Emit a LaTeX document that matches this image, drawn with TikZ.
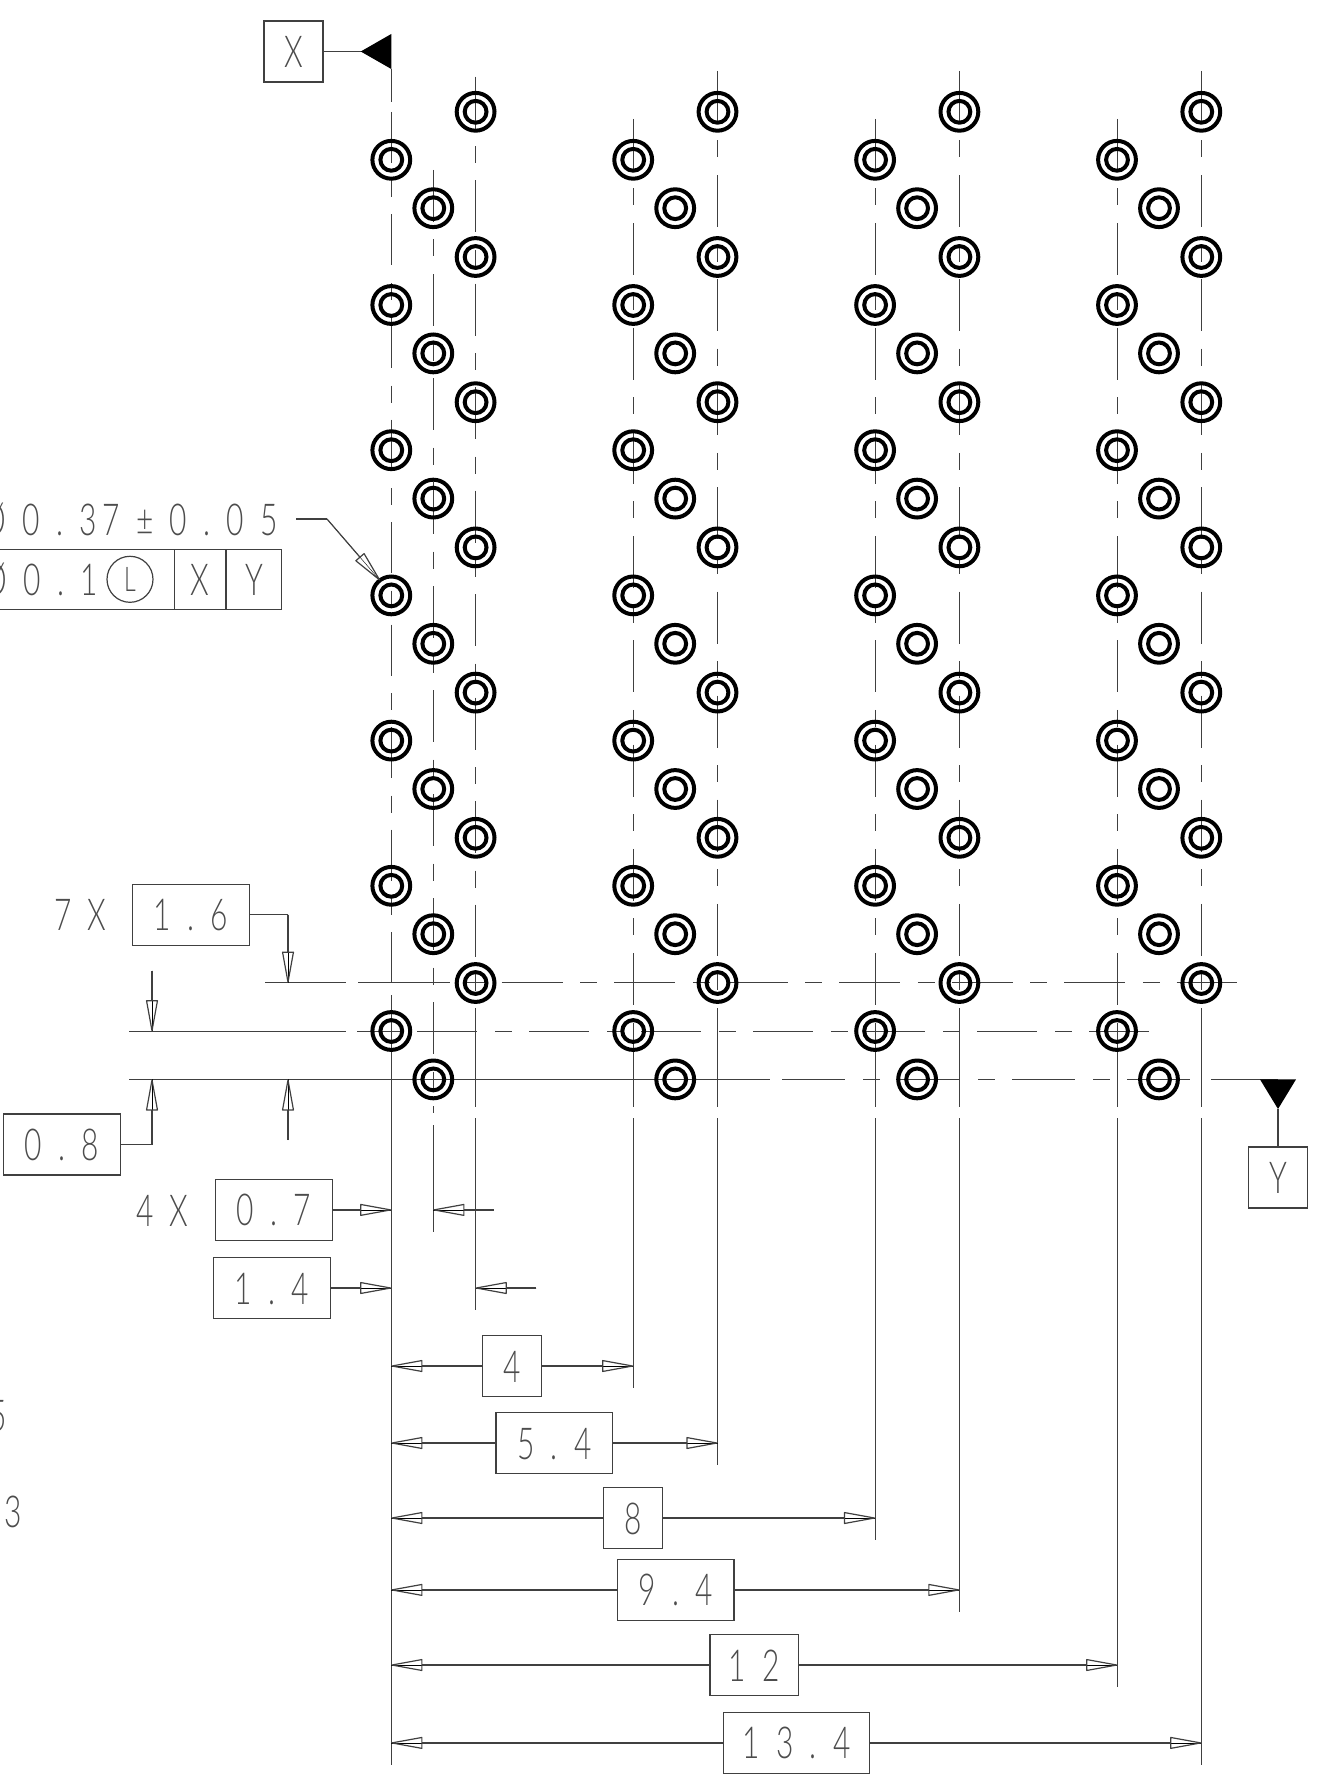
\documentclass[tikz,border=0pt]{standalone}
\usepackage{fontspec}
\setmainfont{Lato}[UprightFont=* Light,FakeStretch=0.68,LetterSpace=37]
\usetikzlibrary{arrows.meta}
\newcommand{\dimfont}{\fontsize{44}{44}\selectfont}
\tikzstyle{line}   = [draw=black!75, line width=1.2pt]
\tikzstyle{cen}    = [line, dash pattern=on 52pt off 17.5pt on 17pt off 17pt]
\tikzstyle{dim}    = [line, -{Triangle[open,round,length=34pt,width=12pt]}, preaction={draw,-}]
\tikzstyle{txt}    = [font=\dimfont, text=black!70, inner sep=0pt, text height=32pt, text depth=0pt]
\tikzstyle{dimbox} = [txt, line, rectangle, minimum height=61pt, outer sep=0pt]
\tikzstyle{hole}   = [draw=black, line width=4pt, circle, inner sep=0pt, outer sep=0pt, minimum size=37.8pt]
\tikzstyle{holein} = [hole, minimum size=21.8pt]
\begin{document}
\begin{tikzpicture}[x=1pt,y=-1pt]
	\useasboundingbox (0,0) rectangle (1326,1779);
	\coordinate (datum) at (391.3,1765);
	\coordinate (colb) at (433.3,1232);
	\coordinate (colc) at (475.6,1310);
	\coordinate (g2a) at (633.2,1388);
	\coordinate (g2c) at (717.5,1465);
	\coordinate (g3a) at (875.1,1540);
	\coordinate (g3c) at (959.4,1612);
	\coordinate (g4a) at (1117.3,1687);
	\coordinate (g4c) at (1201.3,1765);

	% centre lines, first group
	\draw[line] (391.3,69) -- (391.3,102);
	\draw[cen, dash pattern=on 51pt off 17.5pt on 17pt off 17pt] (391.3,112) -- (391.3,983);
	\draw[line] (391.3,995) -- (datum);
	\draw[cen, dash pattern=on 52pt off 17.5pt on 17pt off 17.5pt] (433.3,170) -- (433.3,1113);
	\draw[line] (433.3,1125) -- (colb);
	\draw[cen] (475.6,76.7) -- (475.6,992);
	\draw[line] (475.6,1008) -- (475.6,1107);
	\draw[line] (475.6,1118) -- (colc);
	% centre lines, other groups
	\foreach \a/\c in {g2a/g2c,g3a/g3c,g4a/g4c}{
		\draw[cen, dash pattern=on 52pt off 17.5pt on 17pt off 17.75pt] (\a |- 0,119) -- (\a |- 0,1005);
		\draw[line] (\a |- 0,1023) -- (\a |- 0,1107);
		\draw[line] (\a |- 0,1118) -- (\a);
		\draw[cen, dash pattern=on 52pt off 17.5pt on 17pt off 17.6pt] (\c |- 0,71) -- (\c |- 0,992);
		\draw[line] (\c |- 0,1008) -- (\c |- 0,1107);
		\draw[line] (\c |- 0,1118) -- (\c);
	}
	% centre lines, rows
	\draw[line] (265,982.7) -- (346,982.7);
	\draw[line] (358,982.7) -- (450,982.7);
	\draw[line] (465,982.7) -- (485,982.7);
	\draw[cen, dash pattern=on 61pt off 17.75pt on 17pt off 16.75pt] (501.5,982.7) -- (1237,982.7);
	\draw[line] (129,1031.3) -- (346,1031.3);
	\draw[line] (357,1031.3) -- (403,1031.3);
	\draw[cen, dash pattern=on 60pt off 18pt on 17pt off 17pt] (417,1031.3) -- (1149,1031.3);
	\draw[line] (129,1079.4) -- (770,1079.4);
	\draw[cen, dash pattern=on 63pt off 18pt on 17pt off 17pt] (782,1079.4) -- (1193,1079.4);
	\draw[line] (1211,1079.4) -- (1278,1079.4);

	% holes
	\foreach \g in {0,1,2,3}{
		\foreach \c/\dx/\y in {a/0/159.8,b/42/208.2,c/84.3/111.8}{
			\foreach \r in {0,...,6}{
				\node[hole] (hole-\g-\c-\r) at (391.3+241.9*\g+\dx,\y+145.2*\r) {};
				\node[holein] at (hole-\g-\c-\r) {};
			}
		}
	}

	% datum flags
	\node[dimbox, minimum width=59pt] (xbox) at (293.5,51.5) {X};
	\coordinate (xtip) at (360.7,51.5);
	\draw[line] (xbox.east) -- (xtip);
	\fill (xtip) -- (391.3,34) -- (391.3,69) -- cycle;
	\node[dimbox, minimum width=59pt] (ybox) at (1278,1177.5) {Y};
	\coordinate (ytip) at (1278,1109);
	\draw[line] (ybox.north) -- (ytip);
	\fill (ytip) -- (1260,1079.4) -- (1296,1079.4) -- cycle;

	% position callout
	\node[txt, anchor=east] (tolsize) at (278,519) {Ø0.3\kern6pt 7±0.05};
	\node[dimbox, minimum width=220pt, minimum height=60pt] (fcftol) at (64.7,579.3) {};
	\node[dimbox, minimum width=51.3pt, minimum height=60pt] (fcfx) at (200.3,579.3) {X};
	\node[dimbox, minimum width=55.7pt, minimum height=60pt] (fcfy) at (253.9,579.3) {Y};
	\node[txt, anchor=east] (fcfval) at (98,579.3) {Ø0.1};
	\node[line, circle, minimum size=46pt, inner sep=0pt, outer sep=0pt, font=\fontsize{34}{34}\selectfont, text=black!70] (fcfl) at (130,579.3) {L};
	\coordinate (lead) at (296,519);
	\coordinate (leadb) at (327,519);
	\draw[line] (lead) -- (leadb);
	\draw[dim] (leadb) -- (hole-0-a-3.127);

	% row dimensions
	\node[txt, anchor=west] (n7x) at (54,914) {7X};
	\node[dimbox, minimum width=116.4pt] (d16) at (191,914.7) {1.6};
	\coordinate (d16a) at (288,914.7);
	\coordinate (d16b) at (288,982.7);
	\draw[line] (d16.east) -- (d16a);
	\draw[dim] (d16a) -- (d16b);
	\coordinate (d08top) at (152,970.7);
	\coordinate (d08mid) at (152,1031.3);
	\draw[dim] (d08top) -- (d08mid);
	\node[dimbox, minimum width=116.4pt] (d08) at (62,1144.5) {0.8};
	\coordinate (d08a) at (152,1144.5);
	\coordinate (d08b) at (152,1079.4);
	\draw[line] (d08.east) -- (d08a);
	\draw[dim] (d08a) -- (d08b);
	\coordinate (d08c) at (288,1140);
	\coordinate (d08d) at (288,1079.4);
	\draw[dim] (d08c) -- (d08d);

	% column dimensions
	\node[txt, anchor=west] (n4x) at (136,1210) {4X};
	\node[dimbox, minimum width=117pt] (d07) at (273.7,1209.9) {0.7};
	\draw[dim] (d07.east) -- (d07.east -| datum);
	\coordinate (d07t) at (493.6,1209.9);
	\draw[dim] (d07t) -- (d07t -| colb);
	\node[dimbox, minimum width=117pt] (d14) at (272,1288) {1.4};
	\draw[dim] (d14.east) -- (d14.east -| datum);
	\coordinate (d14t) at (536.4,1288);
	\draw[dim] (d14t) -- (d14t -| colc);

	% overall dimensions
	\foreach \n/\t/\cx/\cy/\w/\e in {d4/4/512/1366/59.4/g2a,
			d54/5.4/554.4/1443/116.7/g2c,
			d8/8/633/1518/59.4/g3a,
			d94/9.4/675.7/1589.9/116.7/g3c,
			d12/12/754.2/1665/88.3/g4a,
			d134/13.4/796.5/1742.9/145.6/g4c}{
		\node[dimbox, minimum width=\w pt] (\n) at (\cx,\cy) {\t};
		\draw[dim] (\n.west) -- (\n.west -| datum);
		\draw[dim] (\n.east) -- (\n.east -| \e);
	}

	% cut off at the sheet edge
	\node[txt, anchor=east] (cut5) at (7,1415) {5};
	\node[txt, anchor=east] (cut3) at (22,1511) {3};
\end{tikzpicture}
\end{document}
